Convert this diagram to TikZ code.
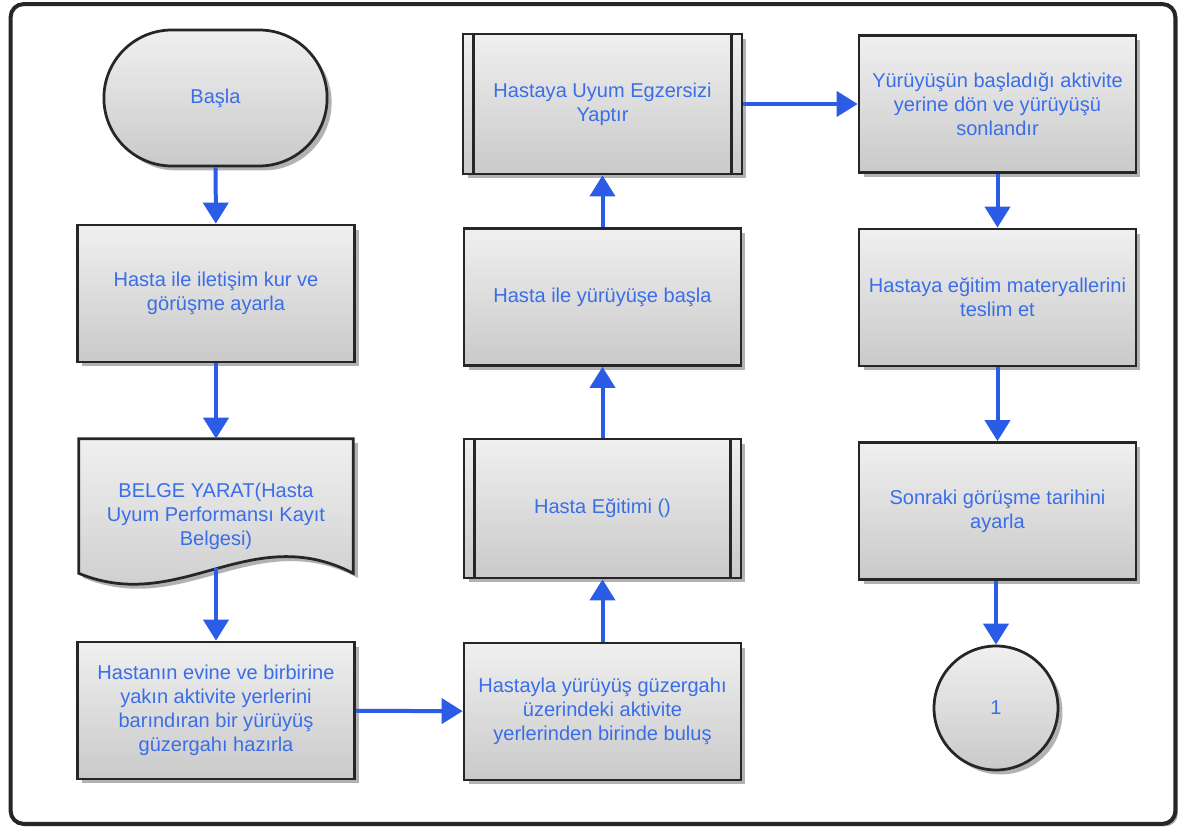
\documentclass[tikz,border=0pt]{standalone}
\usepackage{fontspec}
\setmainfont{Liberation Sans}
\usetikzlibrary{arrows.meta,shapes.misc,shadows,calc}
\definecolor{flowblue}{HTML}{2B5CE6}
\definecolor{labelblue}{HTML}{3A6EE8}
\definecolor{edgegray}{HTML}{262626}
\begin{document}
\begin{tikzpicture}[x=0.02cm,y=-0.02cm,
  every node/.style={font=\fontsize{11.4}{13.6}\selectfont, text=labelblue, align=center},
  boxshade/.style={draw=edgegray, line width=0.055cm, top color=black!6, bottom color=black!21,
    drop shadow={shadow xshift=0.09cm, shadow yshift=-0.09cm, fill=gray!60, opacity=1}},
  stepbox/.style={boxshade, rectangle, minimum width=5.54cm, minimum height=2.74cm, inner sep=2pt},
  startbox/.style={boxshade, rounded rectangle, minimum width=4.7cm, minimum height=2.72cm},
  endcircle/.style={boxshade, circle, minimum size=2.48cm},
  docholder/.style={rectangle, minimum width=5.48cm, minimum height=2.68cm, inner sep=0pt},
  sideline/.style={draw=edgegray, line width=0.055cm},
  conn/.style={draw=flowblue, line width=0.08cm, -{Triangle[width=0.5cm,length=0.42cm]}},
  frame/.style={draw=black!85, line width=0.08cm, fill=white, rounded corners=0.26cm,
    minimum width=23.3cm, minimum height=16.4cm,
    drop shadow={shadow xshift=0.05cm, shadow yshift=-0.05cm, fill=gray!70, opacity=1}}
]
\useasboundingbox (0,0) rectangle (1181,830);

% outer frame
\node[frame] (outer) at (593,414) {};

% first column
\node[startbox] (start) at (215.5,98) {Başla};
\node[stepbox] (contact) at (216,293.5) {Hasta ile iletişim kur ve\\görüşme ayarla};

% document shape with a wavy bottom edge
\node[docholder] (doc) at (216,506) {};
\path[boxshade] (doc.north west) -- (doc.north east) -- (doc.south east)
  .. controls (250,520) and (180,615) .. (doc.south west) -- cycle;
\node (doclabel) at (216,516) {BELGE YARAT(Hasta\\Uyum Performansı Kayıt\\Belgesi)};

\node[stepbox] (route) at (216,710.5) {Hastanın evine ve birbirine\\yakın aktivite yerlerini\\barındıran bir yürüyüş\\güzergahı hazırla};

% second column
\node[stepbox] (meet) at (602.5,711.5) {Hastayla yürüyüş güzergahı\\üzerindeki aktivite\\yerlerinden birinde buluş};
\node[stepbox, minimum height=2.78cm] (edu) at (602.5,508.5) {Hasta Eğitimi ()};
\draw[sideline] ([xshift=0.24cm]edu.north west) -- ([xshift=0.24cm]edu.south west);
\draw[sideline] ([xshift=-0.24cm]edu.north east) -- ([xshift=-0.24cm]edu.south east);
\node[stepbox] (walk) at (602.5,297) {Hasta ile yürüyüşe başla};
\node[stepbox, minimum width=5.58cm, minimum height=2.8cm] (exercise) at (602.5,104) {Hastaya Uyum Egzersizi\\Yaptır};
\draw[sideline] ([xshift=0.24cm]exercise.north west) -- ([xshift=0.24cm]exercise.south west);
\draw[sideline] ([xshift=-0.24cm]exercise.north east) -- ([xshift=-0.24cm]exercise.south east);

% third column
\node[stepbox] (finish) at (997.5,104) {Yürüyüşün başladığı aktivite\\yerine dön ve yürüyüşü\\sonlandır};
\node[stepbox] (material) at (997.5,297.5) {Hastaya eğitim materyallerini\\teslim et};
\node[stepbox] (next) at (997.5,511) {Sonraki görüşme tarihini\\ayarla};
\node[endcircle] (conn1) at (996,708) {1};

% connectors
\draw[conn] (start) -- (contact);
\draw[conn] (contact) -- (doc);
\draw[conn] ([yshift=0.1cm]doc.south) -- (route);
\draw[conn] (route) -- (meet);
\draw[conn] (meet) -- (edu);
\draw[conn] (edu) -- (walk);
\draw[conn] (walk) -- (exercise);
\draw[conn] (exercise) -- (finish);
\draw[conn] (finish) -- (material);
\draw[conn] (material) -- (next);
\draw[conn] (next.south -| conn1.north) -- (conn1);
\end{tikzpicture}
\end{document}
